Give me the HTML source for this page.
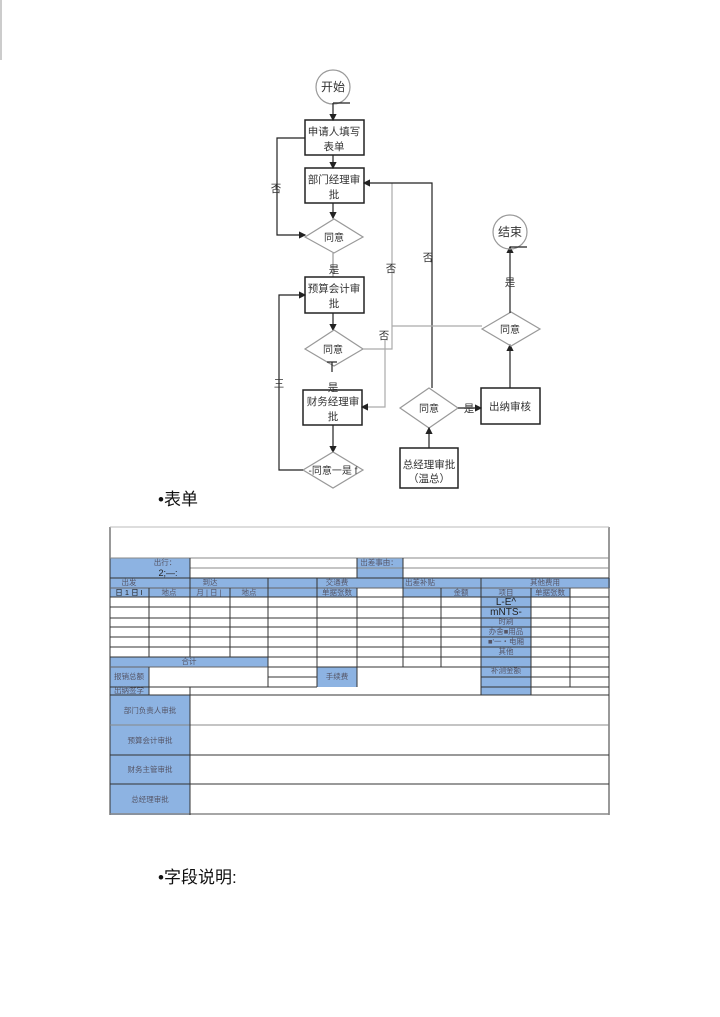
<!DOCTYPE html>
<html><head><meta charset="utf-8"><style>
html,body{margin:0;padding:0;background:#fff;width:720px;height:1017px;overflow:hidden}
svg{display:block}
text{font-family:"Liberation Sans","Noto Sans CJK SC",sans-serif}
</style></head><body>
<svg width="720" height="1017" viewBox="0 0 720 1017" xmlns="http://www.w3.org/2000/svg">
<defs>
<marker id="a" markerWidth="6" markerHeight="6" refX="5" refY="3" orient="auto"><path d="M0,0 L6,3 L0,6 z" fill="#222"/></marker>
</defs>
<line x1="1" y1="0" x2="1" y2="60" stroke="#999"/>
<g stroke="#222" stroke-width="1.2" fill="none">
<circle cx="333" cy="87" r="17" stroke="#999"/>
<line x1="333" y1="103" x2="350" y2="103"/>
<line x1="333" y1="103" x2="333" y2="120" marker-end="url(#a)"/>
<rect x="305" y="120" width="59" height="35" stroke-width="1.5"/>
<line x1="333" y1="155" x2="333" y2="168" marker-end="url(#a)"/>
<rect x="305" y="168" width="59" height="35" stroke-width="1.5"/>
<line x1="333" y1="203" x2="333" y2="218" marker-end="url(#a)"/>
<polygon points="305,237 334,219 363,237 334,253" stroke="#999"/>
<polyline points="305,138 277,138 277,235 305,235" marker-end="url(#a)"/>
<line x1="333" y1="253" x2="333" y2="277" stroke="#999"/>
<rect x="305" y="277" width="59" height="36" stroke-width="1.5"/>
<line x1="333" y1="313" x2="333" y2="330" marker-end="url(#a)"/>
<polygon points="305,349 334,330 363,349 334,366" stroke="#999"/>
<line x1="327" y1="362" x2="337" y2="362"/><line x1="332" y1="362" x2="332" y2="372"/>
<rect x="303" y="390" width="59" height="35" stroke-width="1.5"/>
<line x1="333" y1="425" x2="333" y2="452" marker-end="url(#a)"/>
<polygon points="303,470 333,452 363,470 333,488" stroke="#999"/>
<polyline points="303,470 279,470 279,295 305,295" marker-end="url(#a)"/>
<polyline points="363,349 392,349 392,183" stroke="#aaa"/>
<polyline points="432,388 432,183 364,183" marker-end="url(#a)"/>
<line x1="392" y1="326" x2="482" y2="326" stroke="#aaa"/>
<polyline points="385,340 385,407 362,407" stroke="#aaa" marker-end="url(#a)"/>
<polygon points="400,408 429,388 458,408 429,428" stroke="#999"/>
<line x1="458" y1="408" x2="481" y2="408" marker-end="url(#a)"/>
<rect x="481" y="388" width="59" height="36" stroke-width="1.5"/>
<line x1="510" y1="388" x2="510" y2="345" marker-end="url(#a)"/>
<polygon points="482,329 511,312 540,329 511,346" stroke="#999"/>
<line x1="510" y1="313" x2="510" y2="247" marker-end="url(#a)"/>
<circle cx="510" cy="232" r="17" stroke="#999"/>
<line x1="510" y1="247" x2="527" y2="247"/>
<rect x="400" y="448" width="58" height="40" stroke-width="1.5"/>
<line x1="429" y1="448" x2="429" y2="428" marker-end="url(#a)"/>
</g>
<g font-size="10.5" fill="#333" text-anchor="middle">
<text x="333" y="91" font-size="12">开始</text>
<text x="334" y="135">申请人填写</text><text x="334" y="150">表单</text>
<text x="334" y="183">部门经理审</text><text x="334" y="198">批</text>
<text x="334" y="241" font-size="10">同意</text>
<text x="276" y="192">否</text>
<text x="334" y="273">是</text>
<text x="334" y="292">预算会计审</text><text x="334" y="307">批</text>
<text x="333" y="353" font-size="10">同意</text>
<text x="333" y="391">是</text>
<text x="333" y="405">财务经理审</text><text x="333" y="420">批</text>
<text x="333" y="474" font-size="10">-同意一是 f</text>
<text x="279" y="387">三</text>
<text x="391" y="272">否</text>
<text x="428" y="261">否</text>
<text x="384" y="339">否</text>
<text x="429" y="412" font-size="10">同意</text>
<text x="469" y="412">是</text>
<text x="510" y="410">出纳审核</text>
<text x="510" y="333" font-size="10">同意</text>
<text x="510" y="286">是</text>
<text x="510" y="236" font-size="12">结束</text>
<text x="429" y="468">总经理审批</text><text x="429" y="482">（温总）</text>
</g>
<text x="158" y="505" font-size="17" fill="#111" font-family="Liberation Serif,Noto Serif CJK SC,serif">•表单</text>
<text x="158" y="883" font-size="17" fill="#111" font-family="Liberation Serif,Noto Serif CJK SC,serif">•字段说明:</text>

<!-- table -->
<g fill="#8db3e2" stroke="none">
<rect x="110" y="558" width="80" height="20"/>
<rect x="357" y="558" width="46" height="20"/>
<rect x="110" y="578" width="500" height="10"/>
<rect x="110" y="588" width="158" height="9"/>
<rect x="268" y="578" width="49" height="19"/>
<rect x="317" y="588" width="40" height="9"/>
<rect x="403" y="588" width="78" height="9"/>
<rect x="481" y="588" width="89" height="9"/>
<rect x="481" y="597" width="50" height="98"/>
<rect x="110" y="657" width="158" height="10"/>
<rect x="110" y="667" width="39" height="28"/>
<rect x="317" y="667" width="40" height="20"/>
<rect x="110" y="695" width="80" height="120"/>
</g>
<g stroke="#333" stroke-width="1" fill="none">
<line x1="110" y1="527" x2="110" y2="815"/>
<line x1="609" y1="527" x2="609" y2="815"/>
<line x1="110" y1="527" x2="609" y2="527" stroke="#bbb"/>
<line x1="110" y1="558" x2="609" y2="558" stroke="#888"/>
<line x1="190" y1="568" x2="609" y2="568" stroke="#888"/>
<line x1="110" y1="578" x2="609" y2="578"/>
<line x1="110" y1="588" x2="609" y2="588" stroke="#666"/>
<line x1="110" y1="597" x2="609" y2="597"/>
<line x1="110" y1="607" x2="609" y2="607"/>
<line x1="110" y1="618" x2="609" y2="618"/>
<line x1="110" y1="627" x2="609" y2="627"/>
<line x1="110" y1="637" x2="609" y2="637"/>
<line x1="110" y1="647" x2="609" y2="647"/>
<line x1="110" y1="657" x2="609" y2="657"/>
<line x1="268" y1="667" x2="609" y2="667"/>
<line x1="110" y1="667" x2="268" y2="667" stroke="#666"/>
<line x1="268" y1="677" x2="317" y2="677"/>
<line x1="481" y1="677" x2="609" y2="677"/>
<line x1="110" y1="687" x2="317" y2="687"/>
<line x1="481" y1="687" x2="609" y2="687"/>
<line x1="110" y1="695" x2="609" y2="695"/>
<line x1="110" y1="725" x2="609" y2="725" stroke="#888"/>
<line x1="110" y1="755" x2="609" y2="755"/>
<line x1="110" y1="784" x2="609" y2="784"/>
<line x1="110" y1="814" x2="609" y2="814" stroke="#888" stroke-width="1.5"/>
<line x1="190" y1="558" x2="190" y2="578"/>
<line x1="357" y1="558" x2="357" y2="578"/>
<line x1="403" y1="558" x2="403" y2="578"/>
<line x1="149" y1="588" x2="149" y2="657"/>
<line x1="190" y1="578" x2="190" y2="657"/>
<line x1="230" y1="588" x2="230" y2="657"/>
<line x1="268" y1="578" x2="268" y2="687"/>
<line x1="317" y1="578" x2="317" y2="687"/>
<line x1="357" y1="588" x2="357" y2="687"/>
<line x1="403" y1="578" x2="403" y2="667"/>
<line x1="441" y1="588" x2="441" y2="667"/>
<line x1="481" y1="578" x2="481" y2="695"/>
<line x1="531" y1="588" x2="531" y2="695"/>
<line x1="570" y1="588" x2="570" y2="687"/>
<line x1="149" y1="667" x2="149" y2="695"/>
<line x1="190" y1="687" x2="190" y2="815"/>
</g>
<g font-size="7.5" fill="#556" text-anchor="middle">
<text x="165" y="565">出行：</text><text x="168" y="576" font-size="9" fill="#222">2;—:</text>
<text x="379" y="565">出差事由：</text>
<text x="129" y="585">出发</text><text x="210" y="585">到达</text><text x="337" y="585">交通费</text><text x="420" y="585">出差补贴</text><text x="545" y="585">其他费用</text>
<text x="129" y="595" fill="#222">日 1 日 I</text><text x="169" y="595">地点</text><text x="209" y="595">月 | 日 |</text><text x="249" y="595">地点</text>
<text x="337" y="595">单据张数</text><text x="461" y="595">金额</text><text x="506" y="595">项目</text><text x="550" y="595">单据张数</text>
<text x="506" y="605" font-size="10" fill="#222" font-family="Liberation Serif,serif">L-E^</text>
<text x="506" y="615" font-size="10" fill="#222" font-family="Liberation Serif,serif">mNTS-</text>
<text x="506" y="624">时刷</text><text x="506" y="634">办舍■用品</text><text x="506" y="644">■'一・电厢</text><text x="506" y="654">其他</text>
<text x="189" y="664">合计</text>
<text x="129" y="679">报销总额</text><text x="337" y="679">手续费</text><text x="506" y="673">补测金额</text>
<text x="129" y="693">出纳签字</text>
<text x="150" y="713">部门负责人审批</text><text x="150" y="743">预算会计审批</text><text x="150" y="772">财务主管审批</text><text x="150" y="802">总经理审批</text>
</g>
</svg>
</body></html>
